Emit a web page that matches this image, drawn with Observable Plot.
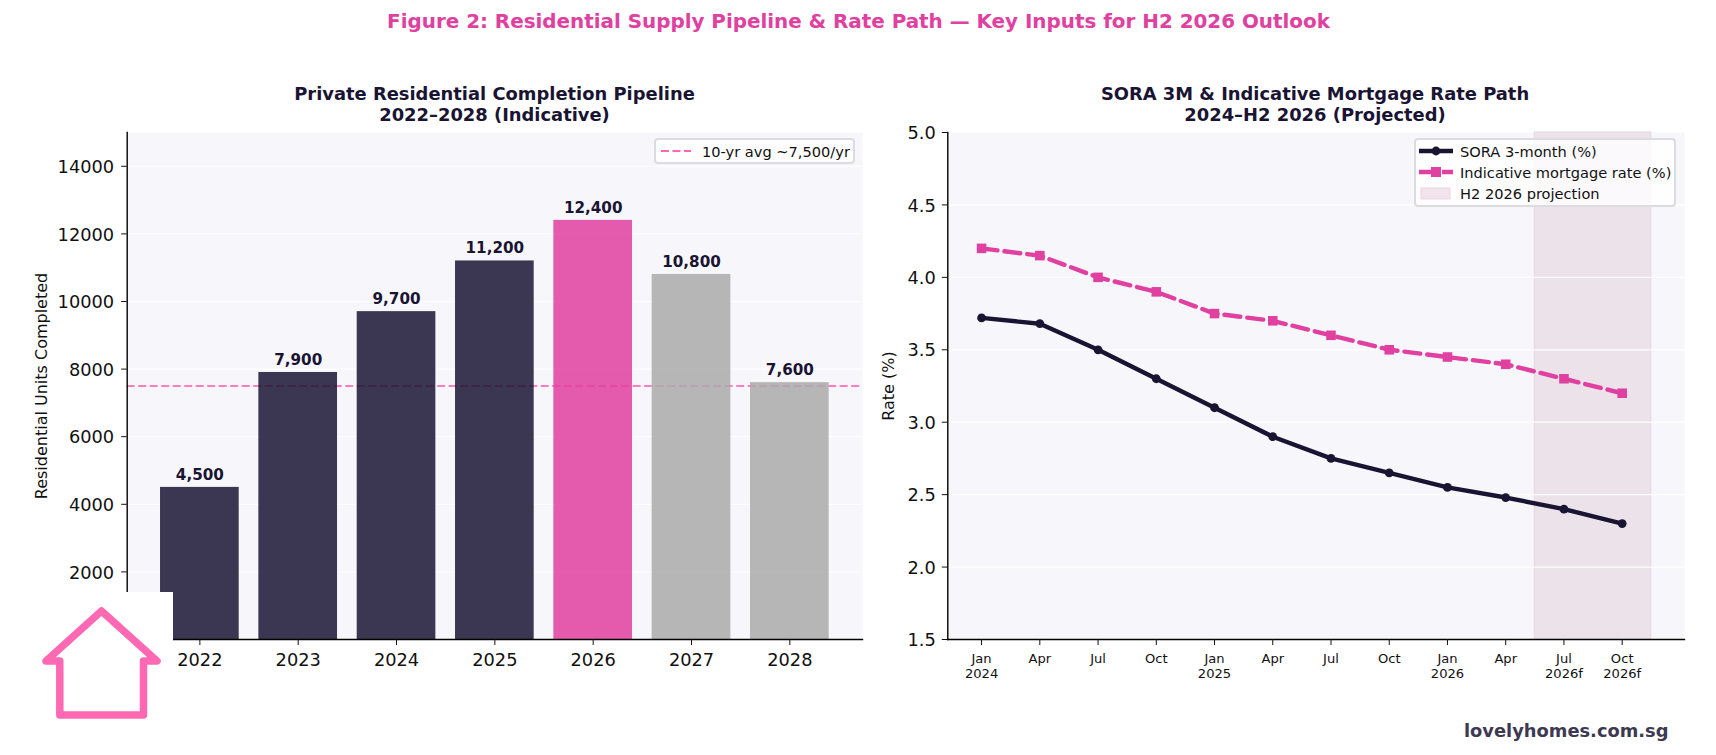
<!DOCTYPE html>
<html><head><meta charset="utf-8">
<script src="https://cdn.jsdelivr.net/npm/d3@7"></script>
<script src="https://cdn.jsdelivr.net/npm/@observablehq/plot@0.6"></script>
<style>
html,body{margin:0;padding:0;background:#fff;}
#page{position:relative;width:1716px;height:755px;overflow:hidden;font-family:"DejaVu Sans",sans-serif;}
#page>*{position:absolute;}
.t{white-space:nowrap;text-align:center;transform:translateX(-50%);}
.sub{font-weight:700;font-size:17.9px;line-height:20.9px;color:#1a1433;top:84px;}
.legend{background:rgba(255,255,255,.8);border:2px solid #dcdce0;border-radius:4px;box-sizing:border-box;font-size:14.6px;color:#111;}
.legend>*{position:absolute;}
.legend span{white-space:nowrap;line-height:17px;}
</style></head>
<body><div id="page"></div>
<script>
const years=["2022","2023","2024","2025","2026","2027","2028"];
const units=[4500,7900,9700,11200,12400,10800,7600];
const status=["done","done","done","done","peak","future","future"];
const avgUnits=7500;
const quarters=["Jan\n2024","Apr","Jul","Oct","Jan\n2025","Apr","Jul","Oct","Jan\n2026","Apr","Jul\n2026f","Oct\n2026f"];
const sora=[3.72,3.68,3.5,3.3,3.1,2.9,2.75,2.65,2.55,2.48,2.4,2.3];
const mortgage=[4.2,4.15,4.0,3.9,3.75,3.7,3.6,3.5,3.45,3.4,3.3,3.2];
const projection=[9.5,11.5];

const INK="#1a1433",PINK="#e040a0",BG="#f7f7fb";
const barRows=years.map((year,i)=>({year,units:units[i],status:status[i]}));
const soraRows=sora.map((v,i)=>({i,v}));
const mortRows=mortgage.map((v,i)=>({i,v}));
const page=document.getElementById("page");
const tickFont=17.8;

const left=Plot.plot({
  width:870,height:755,marginLeft:126.7,marginRight:8,marginTop:132,marginBottom:116,
  style:{background:"transparent",fontFamily:"'DejaVu Sans',sans-serif",color:"#111"},
  x:{type:"band",domain:years,paddingInner:0.2,paddingOuter:0.339,align:0.5,round:false},
  y:{domain:[0,15000]},
  color:{domain:["done","peak","future"],range:[INK,PINK,"#aaaaaa"]},
  marks:[
    Plot.frame({fill:BG,stroke:null}),
    Plot.gridY(d3.range(2000,15000,2000),{stroke:"#fff",strokeOpacity:.85,strokeWidth:1.3}),
    Plot.ruleY([avgUnits],{stroke:"#ff69b4",strokeWidth:1.8,strokeDasharray:"8,3.5",strokeOpacity:.85}),
    Plot.barY(barRows,{x:"year",y:"units",fill:"status",fillOpacity:.85}),
    Plot.text(barRows,{x:"year",y:"units",text:d=>d3.format(",")(d.units),dy:-7.5,lineAnchor:"bottom",fontWeight:700,fontSize:15.2,fill:INK}),
    Plot.frame({anchor:"left",stroke:"#000",strokeWidth:1.4}),
    Plot.frame({anchor:"bottom",stroke:"#000",strokeWidth:1.4}),
    Plot.axisY(d3.range(2000,15000,2000),{label:null,tickSize:5.5,text:null}),
    Plot.axisY(d3.range(2000,15000,2000),{label:null,tickSize:0,tickPadding:13,dy:1,fontSize:tickFont,tickFormat:d=>String(d)}),
    Plot.axisX({label:null,tickSize:6,tickPadding:8,fontSize:tickFont}),
    Plot.text(["Residential Units Completed"],{frameAnchor:"left",textAnchor:"middle",rotate:-90,dx:-85.7,fontSize:16,fill:"#111"})
  ]
});
left.style.left="0";left.style.top="0";page.append(left);

const right=Plot.plot({
  width:846,height:755,marginLeft:77.3,marginRight:32,marginTop:132,marginBottom:116,
  style:{background:"transparent",fontFamily:"'DejaVu Sans',sans-serif",color:"#111"},
  x:{type:"linear",domain:[-0.58,12.07]},
  y:{domain:[1.5,5]},
  marks:[
    Plot.frame({fill:BG,stroke:null}),
    Plot.rectY([projection],{x1:d=>d[0],x2:d=>d[1],y1:1.5,y2:5,fill:"#ece2ea",stroke:"#e6d6e2",strokeWidth:1}),
    Plot.gridY(d3.range(2,5,.5),{stroke:"#fff",strokeOpacity:.9,strokeWidth:1.3}),
    Plot.line(mortRows,{x:"i",y:"v",stroke:PINK,strokeWidth:4.4,strokeDasharray:"16,7"}),
    Plot.dot(mortRows,{x:"i",y:"v",symbol:"square",r:5.4,fill:PINK}),
    Plot.line(soraRows,{x:"i",y:"v",stroke:INK,strokeWidth:4.4}),
    Plot.dot(soraRows,{x:"i",y:"v",r:4.4,fill:INK}),
    Plot.frame({anchor:"left",stroke:"#000",strokeWidth:1.4}),
    Plot.frame({anchor:"bottom",stroke:"#000",strokeWidth:1.4}),
    Plot.axisY(d3.range(1.5,5.01,.5),{label:null,tickSize:5.5,text:null}),
    Plot.axisY(d3.range(1.5,5.01,.5),{label:null,tickSize:0,tickPadding:12,dy:1,fontSize:tickFont,tickFormat:d3.format(".1f")}),
    Plot.axisX(d3.range(quarters.length),{label:null,tickSize:6,tickPadding:6,fontSize:13.1,lineHeight:1.2,tickFormat:i=>quarters[i]}),
    Plot.text(["Rate (%)"],{frameAnchor:"left",textAnchor:"middle",rotate:-90,dx:-59,fontSize:16,fill:"#111"})
  ]
});
right.style.left="870px";right.style.top="0";page.append(right);

function add(html){const w=document.createElement("div");w.innerHTML=html;const el=w.firstElementChild;page.append(el);return el;}
add(`<div class="t" style="left:858.5px;top:10px;font-weight:700;font-size:19.9px;line-height:24px;color:${PINK}">Figure 2: Residential Supply Pipeline &amp; Rate Path — Key Inputs for H2 2026 Outlook</div>`);
add(`<div class="t sub" style="left:494.5px">Private Residential Completion Pipeline<br>2022–2028 (Indicative)</div>`);
add(`<div class="t sub" style="left:1315px">SORA 3M &amp; Indicative Mortgage Rate Path<br>2024–H2 2026 (Projected)</div>`);
add(`<div class="legend" style="left:654px;top:138px;width:201px;height:26px">
 <svg style="left:5px;top:0" width="32" height="22"><line x1="0" x2="30" y1="11" y2="11" stroke="#ff69b4" stroke-width="1.8" stroke-dasharray="8,3.5"/></svg>
 <span style="left:46px;top:3px">10-yr avg ~7,500/yr</span></div>`);
add(`<div class="legend" style="left:1414px;top:138px;width:262px;height:69px">
 <svg style="left:2px;top:0" width="36" height="64">
  <line x1="1" x2="35" y1="11" y2="11" stroke="${INK}" stroke-width="4.4"/><circle cx="18" cy="11" r="4.4" fill="${INK}"/>
  <line x1="1" x2="35" y1="32" y2="32" stroke="${PINK}" stroke-width="4.4" stroke-dasharray="16,7"/><rect x="13" y="27" width="10" height="10" fill="${PINK}"/>
  <rect x="3" y="48" width="29" height="11" fill="#f3e3ed" stroke="#e6d6e2"/></svg>
 <span style="left:44px;top:3px">SORA 3-month (%)</span>
 <span style="left:44px;top:24px">Indicative mortgage rate (%)</span>
 <span style="left:44px;top:45px">H2 2026 projection</span></div>`);
add(`<div style="right:47.5px;top:720px;font-weight:700;font-size:17.85px;line-height:22px;color:#3d3950;white-space:nowrap">lovelyhomes.com.sg</div>`);
add(`<div style="left:0;top:592px;width:173px;height:163px;background:#fff"></div>`);
add(`<svg style="left:0;top:592px" width="173" height="163"><path d="M101.5 19 L157 69 L143.5 69 L143.5 123 L59.8 123 L59.8 69 L46 69 Z" fill="none" stroke="#ff69b4" stroke-width="7.5" stroke-linejoin="round"/></svg>`);
</script></body></html>
